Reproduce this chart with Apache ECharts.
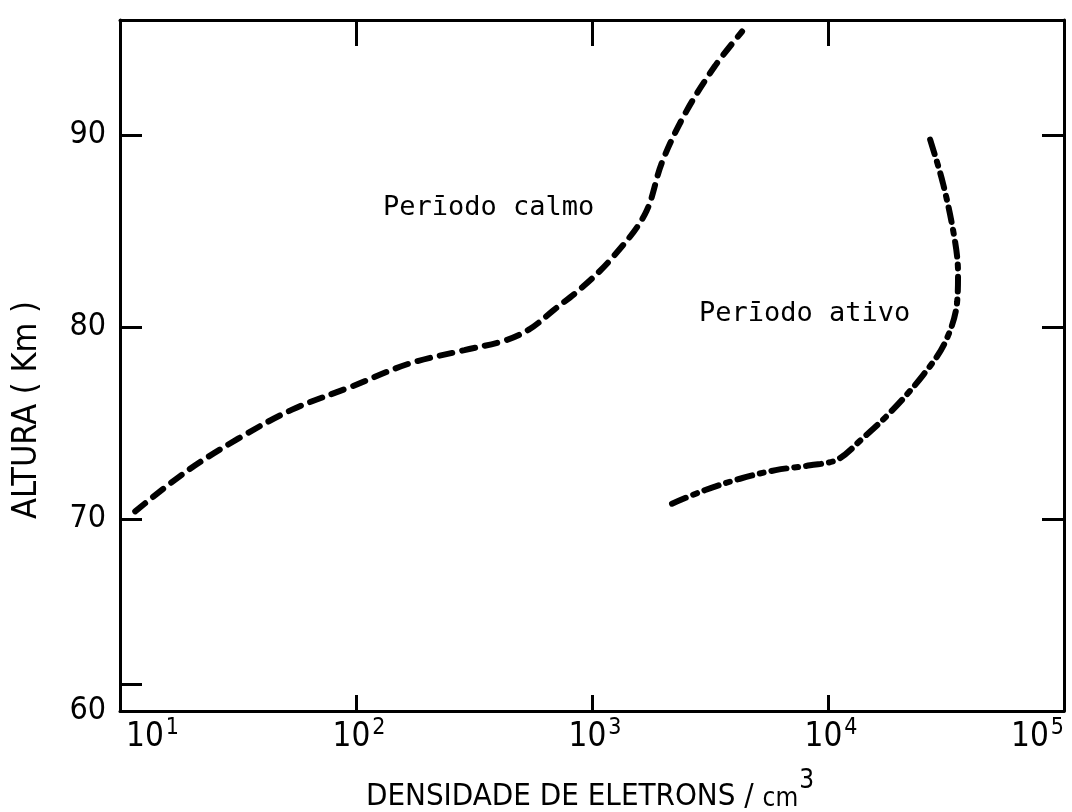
<!DOCTYPE html>
<html><head><meta charset="utf-8">
<script src="https://cdn.jsdelivr.net/npm/echarts@6/dist/echarts.min.js"></script>
<style>html,body{margin:0;padding:0;background:#fff}#c{width:1072px;height:812px}</style>
</head><body><div id="c"></div>
<script>
// ---- data ----
const xTickExponents = [1, 2, 3, 4, 5];
const yTickLabels = [60, 70, 80, 90];
const yTickMarks = [61.4, 70, 80, 90];
const calmDensity  = [11.6, 19.2, 31.8, 53.6, 95.7, 168, 288, 427, 545, 690, 914, 1216, 1679, 1982, 2500, 3319, 4325];
const calmAltitude = [70.4, 72.5, 74.2, 75.7, 76.9, 78.1, 78.8, 79.3, 79.9, 80.9, 82.1, 83.6, 85.9, 88.6, 91.2, 93.6, 95.4];
const activeDensity  = [2183, 3000, 4236, 6000, 8395, 10960, 14000, 18500, 25290, 31330, 35240, 35560, 34500, 30690, 26550];
const activeAltitude = [70.8, 71.5, 72.1, 72.55, 72.8, 73.1, 74.2, 75.6, 77.5, 79.2, 81.3, 82.8, 84.5, 87.5, 90.1];
const calmLabel = 'Perīodo calmo';
const activeLabel = 'Perīodo ativo';
const xTitle = 'DENSIDADE DE ELETRONS / ';
const xTitleUnit = 'cm';
const xTitleExp = '3';
const yTitle = 'ALTURA ( Km )';
const yMin = 60, yMax = 96;

const zip = (a, b) => a.map((v, i) => [v, b[i]]);
const chart = echarts.init(document.getElementById('c'), null, {renderer: 'canvas'});
const NARROW = '"Liberation Sans Narrow", "DejaVu Sans Condensed", sans-serif';
const MONO = '"DejaVu Sans Mono", monospace';
const axisLine = {show: true, lineStyle: {color: '#000', width: 3}};
const supFmt = v => '{b|10}{s|' + Math.round(Math.log10(v)) + '}';
const xDecades = xTickExponents.map(e => Math.pow(10, e));

chart.setOption({
  backgroundColor: '#fff',
  animation: false,
  grid: {left: 120, right: 8, top: 20, bottom: 101, containLabel: false},
  xAxis: [
    {type: 'log', logBase: 10, min: xDecades[0], max: xDecades[xDecades.length - 1], position: 'bottom',
     axisLine: axisLine, splitLine: {show: false}, minorTick: {show: false},
     axisTick: {show: true, inside: true, length: 16, lineStyle: {width: 3, color: '#000'}},
     axisLabel: {show: true, margin: 6, formatter: supFmt, alignMinLabel: 'left', alignMaxLabel: 'right',
       rich: {b: {fontFamily: NARROW, fontSize: 33, color: '#000', verticalAlign: 'bottom', lineHeight: 36, padding: [0, 0, 0, 6]},
              s: {fontFamily: NARROW, fontSize: 23, color: '#000', verticalAlign: 'top', padding: [0, 0, 14, 2]}}}},
    {type: 'log', logBase: 10, min: xDecades[0], max: xDecades[xDecades.length - 1], position: 'top',
     axisLine: axisLine, splitLine: {show: false},
     axisTick: {show: true, inside: true, length: 26, lineStyle: {width: 3, color: '#000'}},
     axisLabel: {show: false}}
  ],
  yAxis: [
    {type: 'value', min: yMin, max: yMax, position: 'left',
     axisLine: axisLine, splitLine: {show: false},
     axisTick: {show: true, inside: true, length: 22, customValues: yTickMarks, lineStyle: {width: 3, color: '#000'}},
     axisLabel: {show: true, margin: 14, customValues: yTickLabels, color: '#000', fontFamily: NARROW, fontSize: 32}},
    {type: 'value', min: yMin, max: yMax, position: 'right',
     axisLine: axisLine, splitLine: {show: false},
     axisTick: {show: true, inside: true, length: 22, customValues: yTickLabels.slice(1), lineStyle: {width: 3, color: '#000'}},
     axisLabel: {show: false}}
  ],
  graphic: [
    {type: 'text', x: 383, y: 208, style: {text: calmLabel, font: '27px ' + MONO, fill: '#000', align: 'left', verticalAlign: 'middle'}},
    {type: 'text', x: 699, y: 314, style: {text: activeLabel, font: '27px ' + MONO, fill: '#000', align: 'left', verticalAlign: 'middle'}},
    {type: 'text', x: 27, y: 410, rotation: Math.PI / 2,
     style: {text: yTitle, font: '34px ' + NARROW, fill: '#000', align: 'center', verticalAlign: 'middle'}},
    {type: 'text', x: 590, y: 790, style: {
      text: '{t|' + xTitle + '}{c|' + xTitleUnit + '}{s|' + xTitleExp + '}',
      align: 'center', verticalAlign: 'middle',
      rich: {t: {fontFamily: NARROW, fontSize: 31, fill: '#000', verticalAlign: 'bottom'},
             c: {fontFamily: NARROW, fontSize: 26, fill: '#000', verticalAlign: 'bottom'},
             s: {fontFamily: NARROW, fontSize: 26, fill: '#000', verticalAlign: 'top', padding: [0, 0, 18, 1]}}}}
  ],
  series: [
    {type: 'line', name: calmLabel, xAxisIndex: 0, yAxisIndex: 0, data: zip(calmDensity, calmAltitude),
     showSymbol: false, smooth: 0.35, lineStyle: {color: '#000', width: 6, type: [13, 10], cap: 'round'}},
    {type: 'line', name: activeLabel, xAxisIndex: 0, yAxisIndex: 0, data: zip(activeDensity, activeAltitude),
     showSymbol: false, smooth: 0.35, lineStyle: {color: '#000', width: 6, type: [15, 8, 4, 8], cap: 'round'}}
  ]
});
</script></body></html>
